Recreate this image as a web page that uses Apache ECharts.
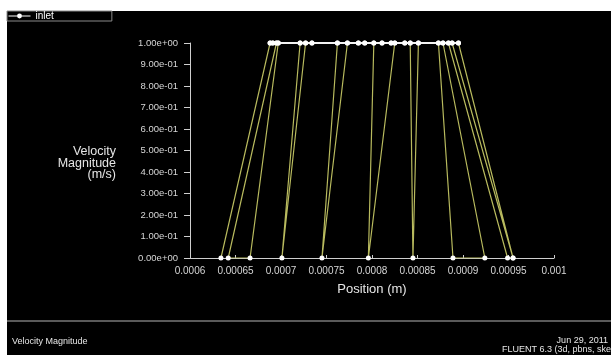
<!DOCTYPE html>
<html lang="en">
<head>
<meta charset="UTF-8">
<script src="https://cdn.jsdelivr.net/npm/echarts@6.0.0/dist/echarts.min.js"></script>
<style>
  html, body { margin: 0; padding: 0; background: #fff; }
  #frame { position: absolute; left: 7px; top: 11px; width: 604px; height: 344px; background: #000; }
  #sep { position: absolute; left: 7px; top: 320px; width: 604px; height: 2px; background: #5a5a5a; }
  #chart { position: absolute; left: 0; top: 0; width: 611px; height: 355px; }
</style>
</head>
<body>
<div id="frame"></div>
<div id="sep"></div>
<div id="chart"></div>
<script type="text/javascript">
  // inlet nodes in the order Fluent connects them
  var position = [0.000634, 0.000688, 0.000691, 0.000695, 0.000642, 0.000666, 0.000697, 0.000721,
                  0.000701, 0.000727, 0.000734, 0.000762, 0.000745, 0.000773, 0.000785, 0.000792,
                  0.000802, 0.000796, 0.000825, 0.000821, 0.000811, 0.000836, 0.000842, 0.000845,
                  0.000851, 0.000873, 0.000889, 0.000924, 0.000878, 0.000884, 0.000949, 0.000955,
                  0.000895, 0.000888, 0.000955];
  var velocity = [0, 1, 1, 1, 0, 0, 1, 1,
                  0, 1, 1, 1, 0, 1, 1, 1,
                  1, 0, 1, 1, 1, 1, 1, 0,
                  1, 1, 0, 0, 1, 1, 0, 0,
                  1, 1, 0];
  var seriesName = "inlet";
  var xTitle = "Position (m)";
  var yTitle = "Velocity\nMagnitude\n(m/s)";

  var pts = position.map((p, i) => [p, velocity[i]]);
  var topRow = pts.filter(d => d[1] === 1).sort((a, b) => a[0] - b[0]);

  function expLabel(v) {
    var s = v.toExponential(2);
    var parts = s.split("e");
    var sign = parts[1][0];
    var num = parts[1].slice(1);
    if (num.length < 2) num = "0" + num;
    return parts[0] + "e" + sign + num;
  }

  var chart = echarts.init(document.getElementById("chart"));
  var font = "Liberation Sans, Arial, sans-serif";
  var option = {
    backgroundColor: "transparent",
    animation: false,
    textStyle: { fontFamily: font },
    legend: {
      data: [seriesName],
      left: 7, top: 11,
      orient: "horizontal",
      padding: [0, 58, 0, 1],
      borderColor: "#8a8a8a",
      borderWidth: 1,
      itemWidth: 22, itemHeight: 6, itemGap: 2,
      textStyle: { color: "#fff", fontSize: 10, fontFamily: font },
      lineStyle: { color: "#fff", width: 1 },
      itemStyle: { color: "#fff" }
    },
    grid: { left: 190, right: 57, top: 43, bottom: 97, containLabel: false },
    xAxis: {
      type: "value",
      min: 0.0006, max: 0.001, interval: 0.00005,
      name: xTitle,
      nameLocation: "middle",
      nameGap: 25,
      nameTextStyle: { color: "#e6e6e6", fontSize: 13, fontFamily: font },
      axisLine: { lineStyle: { color: "#cfcfcf", width: 1 } },
      axisTick: { show: true, inside: true, length: 3, lineStyle: { color: "#cfcfcf" } },
      axisLabel: { color: "#d6d6d6", fontSize: 10, margin: 8, formatter: v => String(+v.toPrecision(6)) },
      splitLine: { show: false }
    },
    yAxis: {
      type: "value",
      min: 0, max: 1, interval: 0.1,
      axisLine: { show: true, lineStyle: { color: "#cfcfcf", width: 1 } },
      axisTick: { show: true, length: 6, lineStyle: { color: "#cfcfcf" } },
      axisLabel: { color: "#d6d6d6", fontSize: 9.5, margin: 12, formatter: expLabel },
      splitLine: { show: false }
    },
    graphic: [
      { type: "text", x: 116, y: 146, style: { text: yTitle, fill: "#e6e6e6", fontSize: 12.5, lineHeight: 11.5, fontFamily: font, align: "right" } },
      { type: "text", left: 12, top: 337, style: { text: "Velocity Magnitude", fill: "#e6e6e6", fontSize: 9, fontFamily: font } },
      { type: "text", right: 3, top: 336, style: { text: "Jun 29, 2011", fill: "#e6e6e6", fontSize: 9, fontFamily: font, align: "right" } },
      { type: "text", x: 614, y: 345, style: { text: "FLUENT 6.3 (3d, pbns, ske)", fill: "#e6e6e6", fontSize: 9, fontFamily: font, align: "right" } }
    ],
    series: [
      {
        name: seriesName,
        type: "line",
        data: pts,
        z: 2,
        symbol: "circle",
        symbolSize: 5,
        showAllSymbol: true,
        lineStyle: { color: "#b8ba5e", width: 1.2 },
        itemStyle: { color: "#ffffff", borderWidth: 0 }
      },
      {
        name: "top",
        type: "line",
        data: topRow,
        z: 3,
        symbol: "circle",
        symbolSize: 5,
        lineStyle: { color: "#f2f2f2", width: 2 },
        itemStyle: { color: "#ffffff", borderWidth: 0 }
      }
    ]
  };
  chart.setOption(option);
</script>
</body>
</html>
